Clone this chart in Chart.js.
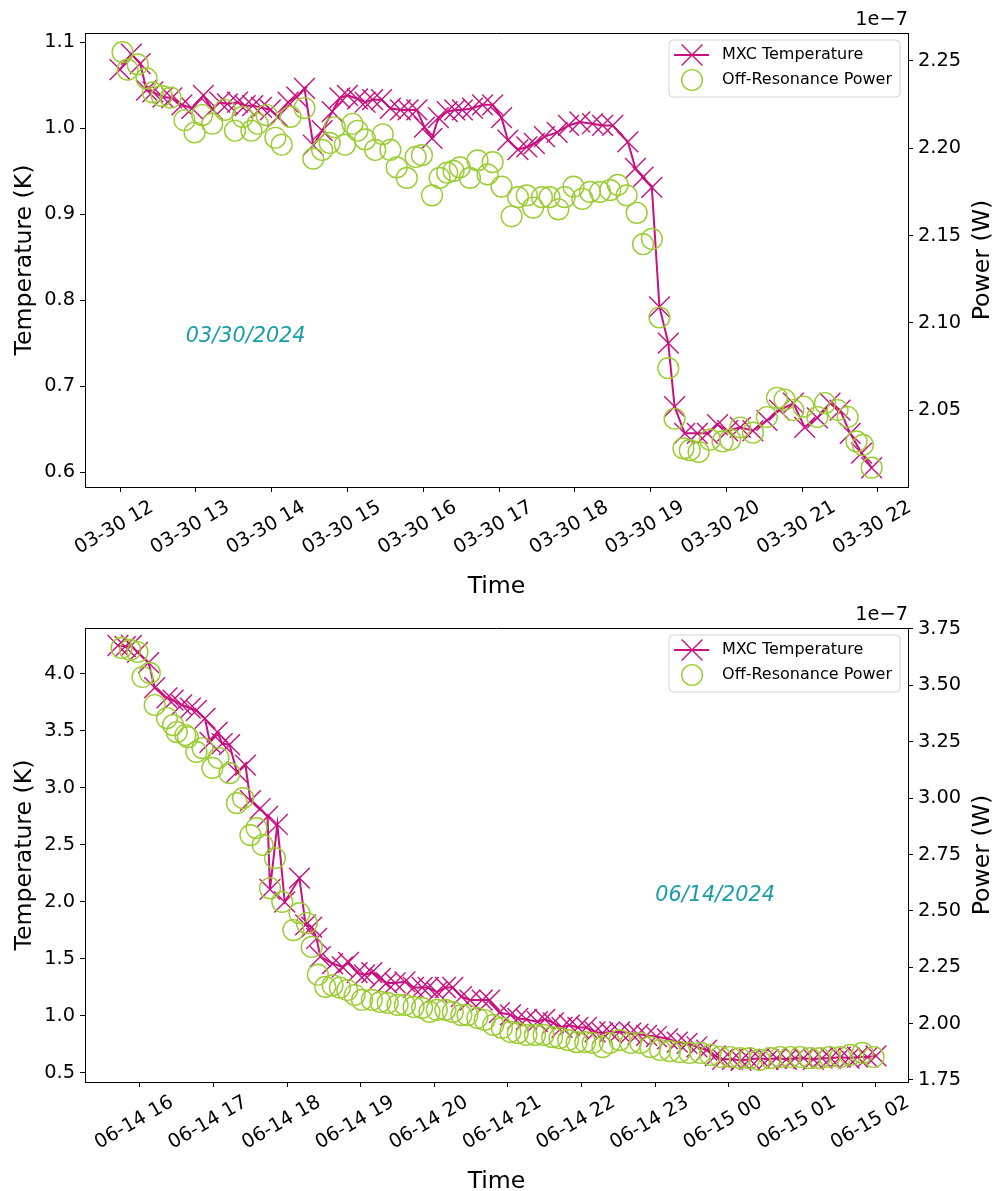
<!DOCTYPE html>
<html>
<head>
<meta charset="utf-8">
<script src="https://cdn.jsdelivr.net/npm/chart.js@4.4.1/dist/chart.umd.min.js"></script>
<style>
  body { margin: 0; background: #fff; }
  .panel { position: absolute; left: 0; width: 994px; height: 596px; }
</style>
</head>
<body>
<div class="panel" style="top:0"><canvas id="topChart" width="994" height="596"></canvas></div>
<div class="panel" style="top:595px"><canvas id="bottomChart" width="994" height="596"></canvas></div>
<script>
// ---- 03/30/2024 run ----
const topTempTimes = ['12:00','12:09','12:16','12:21','12:26','12:34','12:41','12:49','12:57','13:06',
  '13:13','13:19','13:25','13:33','13:39','13:45','13:52','13:59','14:05','14:13',
  '14:20','14:26','14:33','14:40','14:48','14:54','15:00','15:08','15:14','15:20',
  '15:27','15:34','15:42','15:48','15:55','16:01','16:07','16:12','16:19','16:25',
  '16:31','16:39','16:47','16:55','17:02','17:07','17:15','17:22','17:28','17:36',
  '17:46','17:55','18:04','18:14','18:22','18:30','18:42','18:48','18:54','19:01',
  '19:07','19:14','19:19','19:27','19:37','19:45','19:53','20:01','20:11','20:21',
  '20:32','20:42','20:53','21:02','21:12','21:22','21:30','21:38','21:47','21:55'];
const topTemp = [1.068,1.086,1.075,1.044,1.042,1.036,1.035,1.027,1.023,1.038,
  1.022,1.030,1.028,1.030,1.026,1.026,1.024,1.021,1.013,1.030,
  1.036,1.046,0.980,0.997,1.019,1.035,1.038,1.034,1.030,1.033,
  1.033,1.023,1.021,1.021,1.021,1.001,0.988,1.012,1.019,1.021,
  1.021,1.023,1.027,1.027,1.012,0.986,0.975,0.978,0.982,0.990,
  0.995,1.003,1.007,1.005,1.003,1.003,0.984,0.953,0.943,0.931,
  0.792,0.750,0.676,0.645,0.645,0.645,0.655,0.648,0.652,0.648,
  0.660,0.672,0.680,0.652,0.663,0.680,0.672,0.645,0.622,0.605];

const topPowerTimes = ['12:02','12:06','12:14','12:21','12:26','12:33','12:40','12:51','12:59','13:05',
  '13:13','13:23','13:31','13:37','13:44','13:49','13:56','14:03','14:08','14:15',
  '14:26','14:33','14:40','14:46','14:50','14:58','15:04','15:08','15:14','15:22',
  '15:28','15:34','15:39','15:47','15:54','15:59','16:07','16:13','16:19','16:24',
  '16:29','16:37','16:43','16:51','16:55','17:02','17:10','17:15','17:22','17:27',
  '17:34','17:40','17:47','17:52','17:59','18:06','18:12','18:20','18:28','18:34',
  '18:41','18:49','18:54','19:01','19:07','19:14','19:19','19:26','19:31','19:38',
  '19:47','19:57','20:03','20:11','20:21','20:32','20:40','20:46','20:53','21:01',
  '21:12','21:18','21:28','21:36','21:43','21:48','21:55'];
// power in units of 1e-7 W
const topPower = [2.255,2.245,2.248,2.240,2.232,2.230,2.229,2.216,2.209,2.219,
  2.214,2.222,2.210,2.218,2.210,2.214,2.219,2.206,2.202,2.218,
  2.223,2.194,2.199,2.203,2.212,2.202,2.214,2.210,2.205,2.199,
  2.208,2.199,2.189,2.183,2.195,2.196,2.173,2.183,2.186,2.187,
  2.189,2.183,2.193,2.185,2.192,2.178,2.161,2.172,2.173,2.166,
  2.172,2.172,2.165,2.172,2.178,2.171,2.175,2.175,2.176,2.179,
  2.173,2.163,2.145,2.148,2.103,2.074,2.045,2.028,2.027,2.026,
  2.033,2.032,2.033,2.040,2.037,2.046,2.057,2.056,2.050,2.052,
  2.046,2.054,2.050,2.046,2.032,2.030,2.017];

const topHourTicks = [12,13,14,15,16,17,18,19,20,21,22];
const topTempTicks = [0.6,0.7,0.8,0.9,1.0,1.1];
const topPowerTicks = [2.05,2.10,2.15,2.20,2.25];

// ---- 06/14/2024 run (times after midnight belong to 06-15) ----
const botTempTimes = ['15:42','15:48','15:53','15:58','16:07','16:12','16:22','16:27','16:34','16:41',
  '16:46','16:53','16:57','17:03','17:07','17:13','17:19','17:26','17:30','17:38',
  '17:44','17:46','17:52','17:58','18:10','18:15','18:20','18:24','18:27','18:37',
  '18:45','18:50','18:57','19:03','19:09','19:16','19:21','19:28','19:36','19:43',
  '19:50','19:55','20:02','20:09','20:15','20:22','20:29','20:39','20:45','20:53',
  '21:02','21:08','21:15','21:24','21:30','21:37','21:44','21:50','21:57','22:04',
  '22:11','22:17','22:23','22:31','22:40','22:46','22:53','23:01','23:10','23:18',
  '23:26','23:34','23:42','23:49','23:55','00:03','00:10','00:17','00:25','00:32',
  '00:39','00:47','00:54','01:01','01:09','01:16','01:23','01:31','01:38','01:45',
  '01:53','02:00'];
const botTemp = [4.25,4.24,4.25,4.19,4.10,3.88,3.79,3.77,3.73,3.70,
  3.68,3.61,3.40,3.49,3.39,3.38,3.14,3.20,2.89,2.82,
  2.75,2.11,2.68,2.00,2.21,1.80,1.78,1.68,1.52,1.46,
  1.43,1.47,1.38,1.36,1.38,1.33,1.29,1.29,1.30,1.25,
  1.25,1.25,1.21,1.25,1.25,1.17,1.14,1.14,1.14,1.03,
  1.01,0.98,0.97,0.95,0.97,0.94,0.90,0.92,0.90,0.90,
  0.86,0.85,0.86,0.86,0.85,0.84,0.83,0.82,0.80,0.77,
  0.76,0.73,0.70,0.65,0.62,0.62,0.61,0.62,0.63,0.62,
  0.63,0.62,0.63,0.63,0.62,0.63,0.63,0.64,0.63,0.64,
  0.64,0.65];

const botPowerTimes = ['15:45','15:52','15:58','16:02','16:08','16:12','16:22','16:27','16:30','16:37',
  '16:39','16:46','16:51','16:59','17:04','17:13','17:19','17:24','17:30','17:35',
  '17:40','17:46','17:50','17:56','18:05','18:10','18:16','18:20','18:25','18:31',
  '18:37','18:43','18:49','18:55','19:01','19:09','19:16','19:22','19:30','19:36',
  '19:43','19:50','19:56','20:02','20:09','20:15','20:22','20:27','20:35','20:41',
  '20:48','20:55','21:02','21:08','21:15','21:22','21:29','21:36','21:42','21:49',
  '21:56','22:03','22:09','22:17','22:23','22:31','22:40','22:48','22:56','23:04',
  '23:12','23:20','23:28','23:37','23:45','23:53','00:01','00:09','00:17','00:25',
  '00:34','00:42','00:50','00:58','01:06','01:14','01:22','01:31','01:39','01:49',
  '01:58'];
const botPower = [3.666,3.657,3.648,3.537,3.555,3.413,3.355,3.324,3.293,3.280,
  3.270,3.205,3.222,3.134,3.178,3.111,2.978,3.000,2.836,2.867,
  2.792,2.600,2.734,2.540,2.415,2.490,2.446,2.340,2.217,2.163,
  2.170,2.160,2.149,2.127,2.105,2.105,2.096,2.092,2.083,2.083,
  2.074,2.070,2.052,2.061,2.061,2.052,2.038,2.038,2.025,2.016,
  1.994,1.981,1.963,1.958,1.950,1.950,1.950,1.940,1.936,1.927,
  1.918,1.918,1.914,1.896,1.914,1.927,1.914,1.914,1.896,1.883,
  1.878,1.874,1.870,1.870,1.861,1.852,1.852,1.847,1.847,1.839,
  1.847,1.852,1.852,1.852,1.847,1.847,1.852,1.852,1.861,1.870,
  1.852];

const botHourTicks = [16,17,18,19,20,21,22,23,24,25,26];
const botTempTicks = [0.5,1.0,1.5,2.0,2.5,3.0,3.5,4.0];
const botPowerTicks = [1.75,2.00,2.25,2.50,2.75,3.00,3.25,3.50,3.75];

const TEMP_COLOR = '#c8107e';
const POWER_COLOR = '#9acd32';
const DATE_COLOR = '#1a9ca8';
const FONT = '"DejaVu Sans", sans-serif';

Chart.defaults.font.family = FONT;
Chart.defaults.color = '#000';

function toHours(t) {
  const [h, m] = t.split(':').map(Number);
  return h + m / 60;
}
function toHoursOvernight(t) {
  const v = toHours(t);
  return v < 12 ? v + 24 : v;
}
function pts(times, vals, conv) {
  return times.map((t, i) => ({ x: conv(t), y: vals[i] }));
}
const pad2 = n => String(n).padStart(2, '0');

const overlay = {
  id: 'overlay',
  afterDraw(chart, args, o) {
    const { ctx, chartArea: a, scales } = chart;
    ctx.save();
    // matplotlib draws all four spines
    ctx.strokeStyle = '#000';
    ctx.lineWidth = 1;
    ctx.beginPath();
    ctx.moveTo(a.left, Math.round(a.top) + 0.5);
    ctx.lineTo(a.right, Math.round(a.top) + 0.5);
    ctx.stroke();

    // offset text of the twin axis
    ctx.fillStyle = '#000';
    ctx.font = '19.4px ' + FONT;
    ctx.textAlign = 'right';
    ctx.textBaseline = 'bottom';
    ctx.fillText('1e\u22127', a.right, a.top - 3);

    // right axis title, reads bottom to top like matplotlib
    ctx.save();
    ctx.font = '23.6px ' + FONT;
    ctx.translate(chart.width - 11, (a.top + a.bottom) / 2);
    ctx.rotate(-Math.PI / 2);
    ctx.textAlign = 'center';
    ctx.textBaseline = 'middle';
    ctx.fillText('Power (W)', 0, 0);
    ctx.restore();

    // date annotation
    ctx.font = 'italic 20.8px ' + FONT;
    ctx.fillStyle = DATE_COLOR;
    ctx.textAlign = 'left';
    ctx.textBaseline = 'middle';
    ctx.fillText(o.date, scales.x.getPixelForValue(o.dateX), scales.y.getPixelForValue(o.dateY));

    // legend
    ctx.font = '16px ' + FONT;
    const labels = chart.data.datasets.map(d => d.label);
    const tw = Math.max(...labels.map(l => ctx.measureText(l).width));
    const w = 53 + tw + 8, h = 57;
    const lx = a.right - 8 - w, ly = a.top + 7;
    ctx.beginPath();
    ctx.roundRect(lx, ly, w, h, 4);
    ctx.fillStyle = 'rgba(255,255,255,0.8)';
    ctx.fill();
    ctx.strokeStyle = '#d4d4d4';
    ctx.lineWidth = 1;
    ctx.stroke();

    const r1 = ly + 15, r2 = ly + 40, cx = lx + 23, d = 10.4;
    ctx.strokeStyle = TEMP_COLOR;
    ctx.lineWidth = 2;
    ctx.beginPath();
    ctx.moveTo(lx + 5, r1);
    ctx.lineTo(lx + 40, r1);
    ctx.stroke();
    ctx.lineWidth = 1.4;
    ctx.beginPath();
    ctx.moveTo(cx - d, r1 - d); ctx.lineTo(cx + d, r1 + d);
    ctx.moveTo(cx + d, r1 - d); ctx.lineTo(cx - d, r1 + d);
    ctx.stroke();
    ctx.strokeStyle = POWER_COLOR;
    ctx.beginPath();
    ctx.arc(cx, r2, 10.4, 0, Math.PI * 2);
    ctx.stroke();

    ctx.fillStyle = '#000';
    ctx.textAlign = 'left';
    ctx.textBaseline = 'middle';
    ctx.fillText(labels[0], lx + 53, r1);
    ctx.fillText(labels[1], lx + 53, r2);
    ctx.restore();
  }
};

const axisGrid = { drawOnChartArea: false, drawTicks: true, tickLength: 5, color: '#000', lineWidth: 1 };
const axisBorder = { display: true, color: '#000', width: 1 };

function makePanel(id, p) {
  return new Chart(document.getElementById(id), {
    type: 'line',
    data: {
      datasets: [
        {
          label: 'MXC Temperature',
          data: p.temp,
          yAxisID: 'y',
          borderColor: TEMP_COLOR,
          borderWidth: 2,
          pointStyle: 'crossRot',
          pointRadius: 14.7,
          pointBorderWidth: 1.4,
          pointBorderColor: TEMP_COLOR,
          pointBackgroundColor: TEMP_COLOR,
          tension: 0,
          fill: false,
          order: 2
        },
        {
          label: 'Off-Resonance Power',
          data: p.power,
          yAxisID: 'y2',
          showLine: false,
          borderColor: POWER_COLOR,
          pointStyle: 'circle',
          pointRadius: 10.4,
          pointBorderWidth: 1.4,
          pointBorderColor: POWER_COLOR,
          pointBackgroundColor: 'rgba(0,0,0,0)',
          order: 1
        }
      ]
    },
    options: {
      responsive: false,
      animation: false,
      events: [],
      layout: { padding: { top: 33, left: 0, right: 0, bottom: 0 } },
      plugins: {
        legend: { display: false },
        tooltip: { enabled: false },
        overlay: { date: p.date, dateX: p.dateX, dateY: p.dateY }
      },
      scales: {
        x: {
          type: 'linear',
          position: 'bottom',
          min: p.xMin,
          max: p.xMax,
          afterBuildTicks: s => { s.ticks = p.xTicks.map(v => ({ value: v })); },
          afterFit: s => { s.height = 109; },
          grid: axisGrid,
          border: axisBorder,
          ticks: {
            autoSkip: false,
            minRotation: 30,
            maxRotation: 30,
            labelOffset: 32,
            padding: 4,
            font: { size: 19.4 },
            callback: p.xLabel
          },
          title: { display: true, text: 'Time', font: { size: 23.6, lineHeight: 0.8 }, padding: { top: 0, bottom: 0 } }
        },
        y: {
          type: 'linear',
          position: 'left',
          min: p.yMin,
          max: p.yMax,
          afterBuildTicks: s => { s.ticks = p.yTicks.map(v => ({ value: v })); },
          afterFit: s => { s.width = 85; },
          grid: axisGrid,
          border: axisBorder,
          ticks: { padding: 5, font: { size: 19.4 }, callback: v => v.toFixed(1) },
          title: { display: true, text: 'Temperature (K)', font: { size: 23.6, lineHeight: 1.2 }, padding: { top: 11, bottom: 0 } }
        },
        y2: {
          type: 'linear',
          position: 'right',
          min: p.y2Min,
          max: p.y2Max,
          afterBuildTicks: s => { s.ticks = p.y2Ticks.map(v => ({ value: v })); },
          afterFit: s => { s.width = 86; },
          grid: axisGrid,
          border: axisBorder,
          ticks: { padding: 5, font: { size: 19.4 }, callback: v => v.toFixed(2) }
        }
      }
    },
    plugins: [overlay]
  });
}

makePanel('topChart', {
  temp: pts(topTempTimes, topTemp, toHours),
  power: pts(topPowerTimes, topPower, toHours),
  xMin: 11.538, xMax: 22.396, xTicks: topHourTicks,
  xLabel: v => '03-30 ' + pad2(v),
  yMin: 0.5826, yMax: 1.1105, yTicks: topTempTicks,
  y2Min: 2.0059, y2Max: 2.266, y2Ticks: topPowerTicks,
  date: '03/30/2024', dateX: toHours('12:52'), dateY: 0.758
});

makePanel('bottomChart', {
  temp: pts(botTempTimes, botTemp, toHoursOvernight),
  power: pts(botPowerTimes, botPower, toHoursOvernight),
  xMin: 15.253, xMax: 26.435, xTicks: botHourTicks,
  xLabel: v => (v < 24 ? '06-14 ' + pad2(v) : '06-15 ' + pad2(v - 24)),
  yMin: 0.421, yMax: 4.4035, yTicks: botTempTicks,
  y2Min: 1.7411, y2Max: 3.7544, y2Ticks: botPowerTicks,
  date: '06/14/2024', dateX: toHoursOvernight('23:00'), dateY: 2.06
});
</script>
</body>
</html>
